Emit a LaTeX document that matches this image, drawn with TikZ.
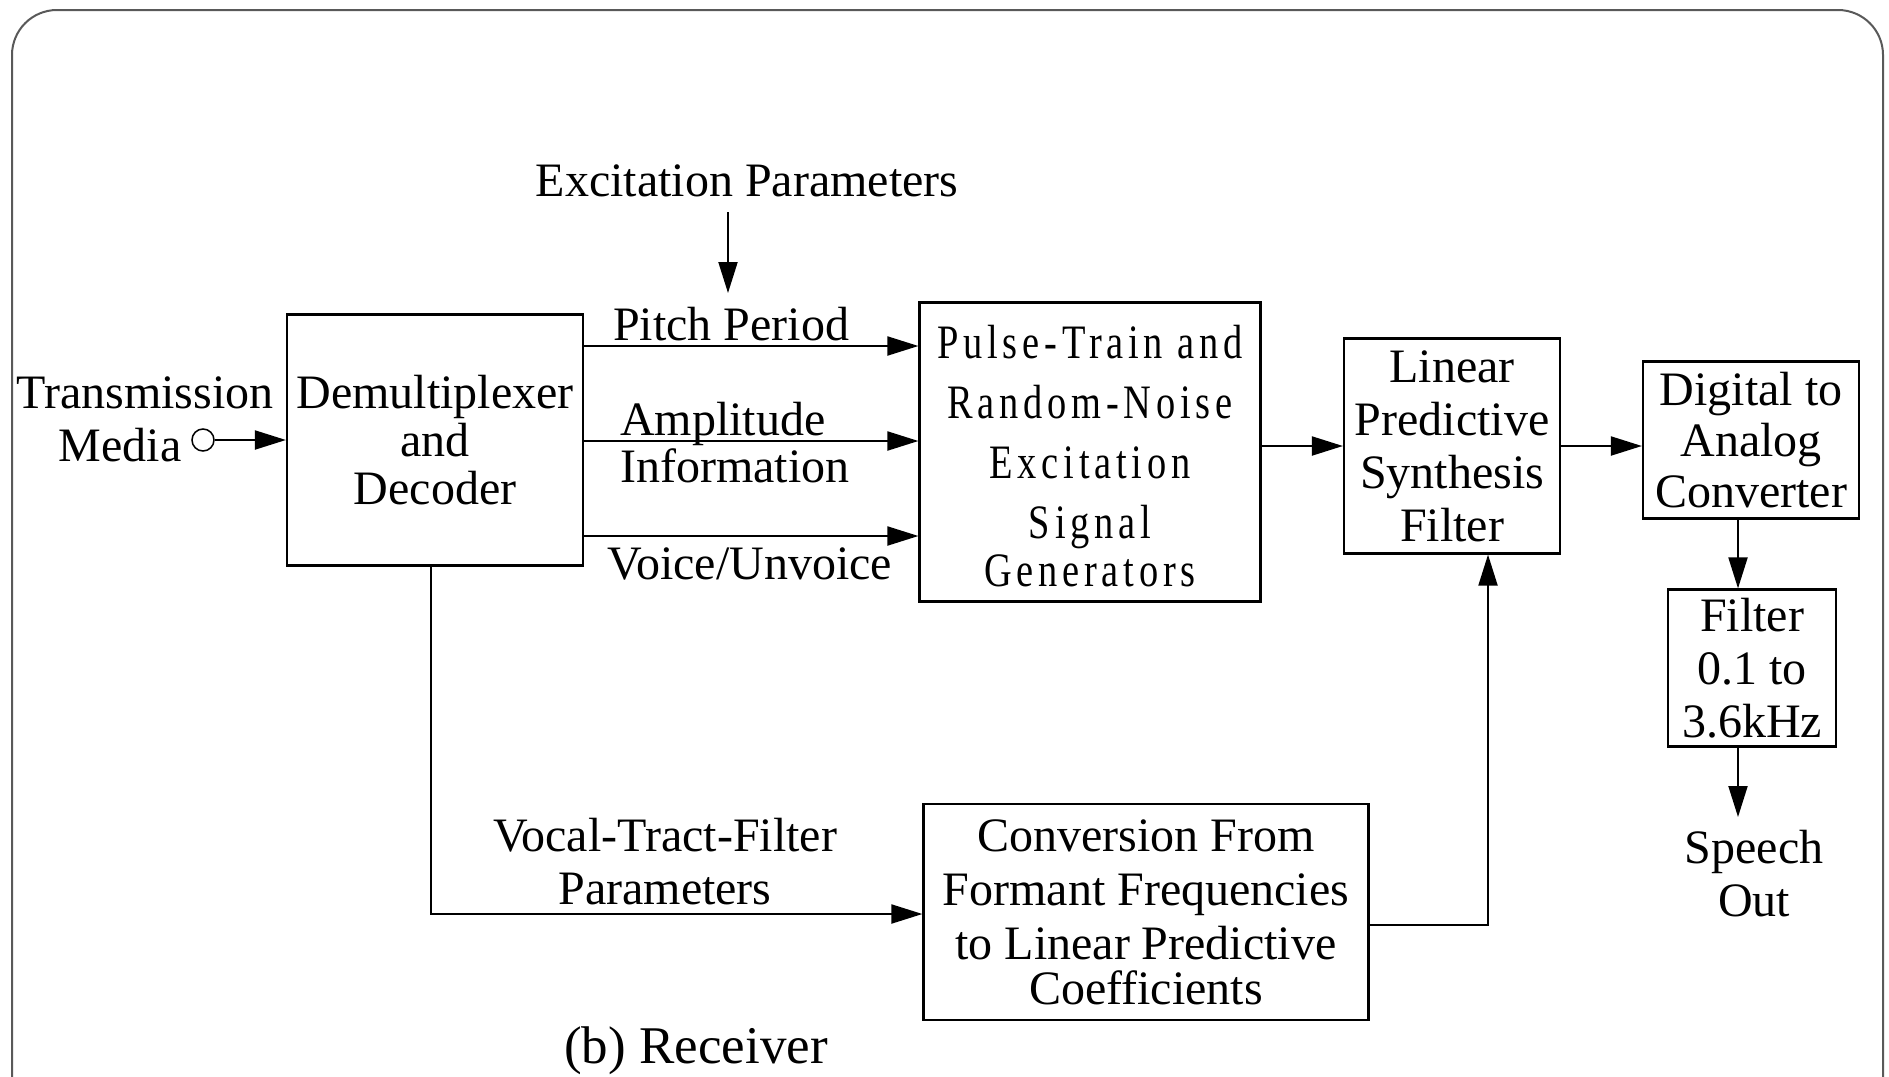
\documentclass[tikz,border=0pt]{standalone}
\usepackage{fontspec}
\setmainfont{Liberation Serif}
\newfontfamily\spacedfont[FakeStretch=0.8,LetterSpace=10]{Liberation Serif}
\usetikzlibrary{arrows.meta}
\begin{document}
\begin{tikzpicture}[x=1pt,y=-1pt,
  txt/.style={align=center,inner sep=0pt,font=\fontsize{48}{53}\selectfont},
  box/.style={txt,draw,line width=2.2pt},
  conn/.style={line width=2pt,-{Triangle[length=31pt,width=19pt]}},
  wire/.style={line width=2pt}]
\useasboundingbox (0,0) rectangle (1889,1076);
\clip (0,0) rectangle (1889,1076);
\draw[line width=2pt, black!65, rounded corners=45pt] (12,10) rectangle (1883,1250);

% boxes
\node[box, minimum width=296pt, minimum height=251pt, font=\fontsize{48}{48}\selectfont] (demux) at (435,440) {Demultiplexer\\and\\Decoder};
\node[box, minimum width=341pt, minimum height=299pt] (pulse) at (1090,452) {};
\node[txt, font=\fontsize{48}{60}\selectfont\spacedfont] (pulsetxt) at (1090,456) {Pulse-Train and\\Random-Noise\\Excitation\\Signal\\[-12pt]Generators};
\node[box, minimum width=216pt, minimum height=215pt, font=\fontsize{48}{53}\selectfont] (lp) at (1452,446) {Linear\\Predictive\\Synthesis\\Filter};
\node[box, minimum width=216pt, minimum height=157pt, font=\fontsize{48}{51}\selectfont] (dac) at (1751,440) {Digital to\\Analog\\Converter};
\node[box, minimum width=168pt, minimum height=157pt] (filt) at (1752,668) {Filter\\0.1 to\\3.6kHz};
\node[box, minimum width=445pt, minimum height=216pt, font=\fontsize{48}{54}\selectfont] (conv) at (1146,912) {Conversion From\\Formant Frequencies\\to Linear Predictive\\[-9pt]Coefficients};

% labels
\node[txt] (trans) at (145,419) {Transmission\\Media\hspace*{50pt}};
\node[draw, circle, line width=1.5pt, minimum size=22pt, inner sep=0pt] (src) at (203,440) {};
\node[txt] (exc) at (747,181) {Excitation Parameters};
\node[txt] (pitch) at (731,324) {Pitch Period};
\node[txt, align=left, anchor=west, font=\fontsize{48}{47}\selectfont] (ampl) at (620,443) {Amplitude\\Information};
\node[txt] (voice) at (750,564) {Voice/Unvoice};
\node[txt] (vocal) at (665,862) {Vocal-Tract-Filter\\Parameters};
\node[txt] (speech) at (1754,874) {Speech\\Out};
\node[txt, font=\fontsize{53}{58}\selectfont] (recv) at (696,1051) {(b) Receiver};

% helper coordinates
\coordinate (excA) at (728,212);
\coordinate (excB) at (728,293);
\coordinate (yP) at (0,346);
\coordinate (yA) at (0,441);
\coordinate (yV) at (0,536);
\coordinate (xD) at (1738,0);
\coordinate (spd) at (1738,817);
\coordinate (xV) at (431,0);
\coordinate (yC) at (0,925);
\coordinate (xL) at (1488,0);
\coordinate (yT) at (0,914);

% connectors
\draw[conn] (src) -- (src -| demux.west);
\draw[conn] (excA) -- (excB);
\draw[conn] (demux.east |- yP) -- (pulse.west |- yP);
\draw[conn] (demux.east |- yA) -- (pulse.west |- yA);
\draw[conn] (demux.east |- yV) -- (pulse.west |- yV);
\draw[conn] (pulse.east |- lp.west) -- (lp.west);
\draw[conn] (lp.east) -- (lp.east -| dac.west);
\draw[conn] (dac.south -| xD) -- (filt.north -| xD);
\draw[conn] (filt.south -| xD) -- (spd);
\draw[conn] (demux.south -| xV) |- (conv.west |- yT);
\draw[conn] (conv.east |- yC) -| (lp.south -| xL);
\end{tikzpicture}
\end{document}
